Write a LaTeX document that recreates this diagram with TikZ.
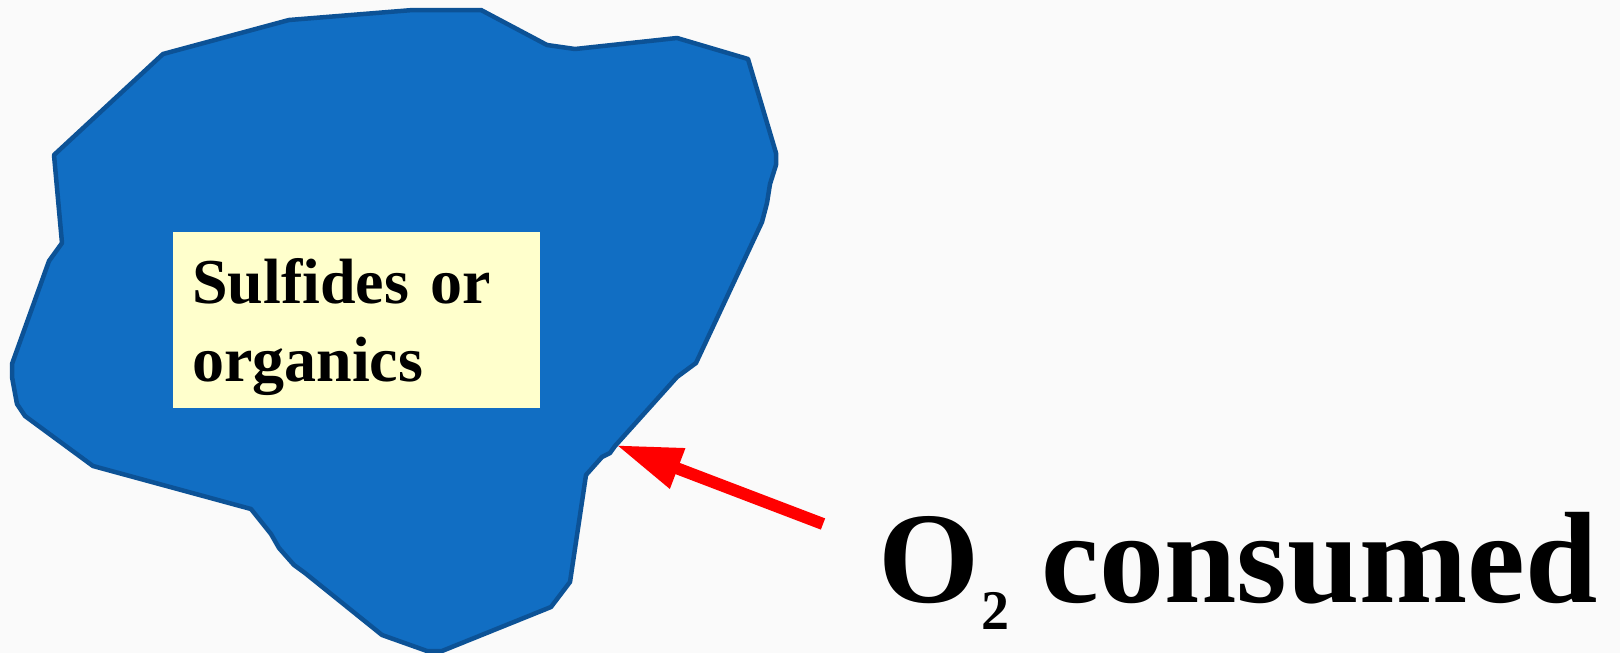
\documentclass[tikz,border=0pt]{standalone}
\usepackage{fontspec}
\setmainfont{Liberation Serif}
\usetikzlibrary{arrows.meta}
\definecolor{bg}{HTML}{FAFAFA}
\definecolor{blob}{HTML}{116EC3}
\definecolor{blobedge}{HTML}{0C5296}
\definecolor{boxfill}{HTML}{FFFFCC}
\definecolor{arrowred}{HTML}{FF0000}
\tikzset{
  blobshape/.style={fill=blob, draw=blobedge, line width=4.5pt, line join=round},
  labelbox/.style={fill=boxfill, draw=none, anchor=north west, minimum width=367pt, minimum height=176pt, text width=329pt, inner xsep=19pt, align=left, font=\fontsize{64}{78}\selectfont\bfseries},
  bigtext/.style={anchor=base west, inner sep=0pt, font=\fontsize{130}{150}\selectfont\bfseries},
  redarrow/.style={draw=arrowred, line width=12pt, -{Triangle[length=66pt,width=40pt]}}
}
\begin{document}
\begin{tikzpicture}[x=1pt,y=-1pt]
\fill[bg] (0,0) rectangle (1620,653);
\useasboundingbox (0,0) rectangle (1620,653);
\draw[blobshape] (163,54) -- (289,20) -- (413,10) -- (481,10) -- (547,45) -- (575,49) -- (677,38) -- (748,59) -- (776,153) -- (776,165) -- (770,184) -- (767,203) -- (762,222) -- (696,363) -- (677,377) -- (615,446) -- (610,453) -- (602,457) -- (586,475) -- (570,582) -- (551,607) -- (442,651) -- (427,651) -- (382,635) -- (305,573) -- (294,565) -- (279,548) -- (271,534) -- (251,509) -- (93,466) -- (25,416) -- (17,404) -- (12,377) -- (12,364) -- (49,261) -- (62,243) -- (54,155) -- cycle;
\coordinate (hit) at (616,445);
\coordinate (tail) at (823,524);
\node[labelbox] (box) at (173,232) {\rule{0pt}{58pt}Sulfides or\\organics};
\node[bigtext] (o2) at (878,602) {O\kern2pt\raisebox{-27pt}{\fontsize{56}{60}\selectfont 2} consumed};
\draw[redarrow] (tail) -- (hit);
\end{tikzpicture}
\end{document}
